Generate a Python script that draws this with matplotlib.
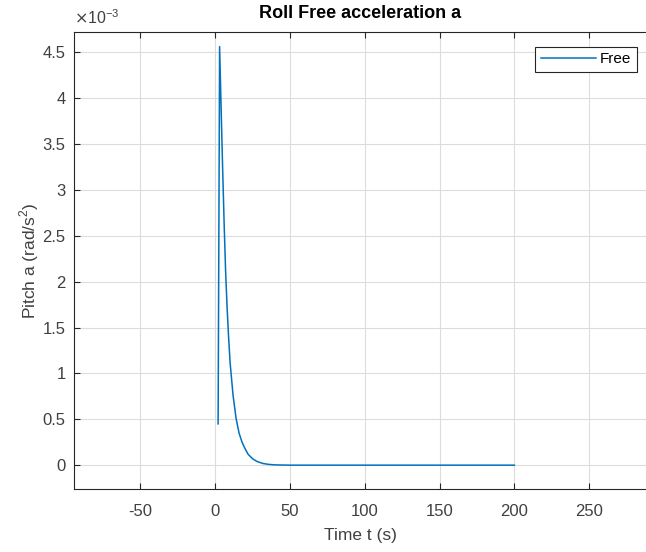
import matplotlib
matplotlib.use("Agg")
import matplotlib.pyplot as plt
from matplotlib.ticker import FuncFormatter

plt.rcParams['font.family'] = ['Liberation Sans', 'DejaVu Sans']
plt.rcParams['axes.unicode_minus'] = False

# time (s) and pitch acceleration (x 1e-3 rad/s^2)
t = [2, 3, 4, 5, 6, 7, 8, 9, 10, 12, 14, 16, 18, 20, 22, 25, 28, 32, 36, 40, 50, 200]
a_milli = [0.45, 4.56, 3.9, 3.25, 2.65, 2.12, 1.72, 1.4, 1.12, 0.76, 0.51, 0.35,
           0.25, 0.18, 0.12, 0.07, 0.04, 0.018, 0.008, 0.003, 0.0, 0.0]
a = [v * 1e-3 for v in a_milli]

xticks = [-50, 0, 50, 100, 150, 200, 250]
yticks = [0, 0.5e-3, 1e-3, 1.5e-3, 2e-3, 2.5e-3, 3e-3, 3.5e-3, 4e-3, 4.5e-3]

fig = plt.figure(figsize=(6.46, 5.52), dpi=100)
ax = fig.add_axes([0.1146, 0.1141, 0.8854, 0.8279])

ax.plot(t, a, color="#0072BD", lw=1.1, label="Free")

ax.set_xlim(-94.3, 288)
ax.set_ylim(-0.26e-3, 4.72e-3)
ax.set_xticks(xticks)
ax.set_yticks(yticks)
ax.yaxis.set_major_formatter(FuncFormatter(lambda v, p: "%g" % round(v * 1e3, 3)))

ax.grid(True, color="#dcdcdc", lw=0.8)
ax.set_axisbelow(True)
for s in ["left", "bottom", "top"]:
    ax.spines[s].set_color("#262626")
    ax.spines[s].set_linewidth(0.8)
ax.spines["right"].set_visible(False)
ax.tick_params(direction="in", length=4, width=0.8, color="#262626",
               labelcolor="#404040", labelsize=12, top=True)
ax.tick_params(axis="x", pad=11)
ax.tick_params(axis="y", pad=6)

ax.text(0.0, 1.01, r"$\times$10$^{\mathregular{-3}}$", transform=ax.transAxes,
        fontsize=11.5, color="#404040", ha="left", va="bottom")

ax.set_title("Roll Free acceleration a", fontsize=13, fontweight="bold", pad=10)
ax.set_xlabel("Time t (s)", fontsize=12.5, color="#404040", labelpad=6)
ax.set_ylabel(r"Pitch a (rad/s$^{\mathregular{2}}$)", fontsize=12.5, color="#404040",
              labelpad=1)

leg = ax.legend(loc="upper right", bbox_to_anchor=(0.984, 0.967), fontsize=11,
                fancybox=False, framealpha=1, edgecolor="#262626",
                handlelength=3.6, borderpad=0.35, handletextpad=0.3,
                borderaxespad=0)
leg.get_frame().set_linewidth(0.8)

fig.savefig("out.png", dpi=100)
